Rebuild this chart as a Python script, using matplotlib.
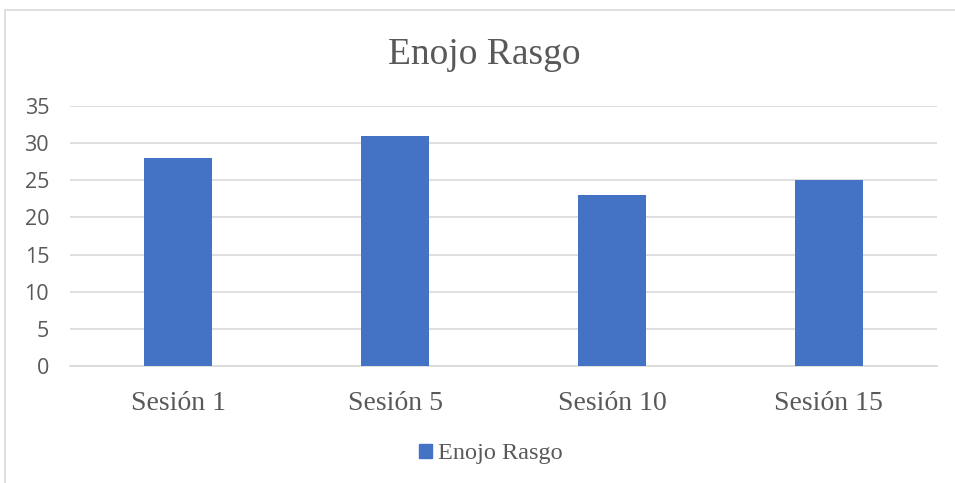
import matplotlib
matplotlib.use("Agg")
import matplotlib.pyplot as plt
from matplotlib.patches import Rectangle, Patch

categories = ["Sesión 1", "Sesión 5", "Sesión 10", "Sesión 15"]
values = [28, 31, 23, 25]
series_name = "Enojo Rasgo"
yticks = [0, 5, 10, 15, 20, 25, 30, 35]

bar_color = "#4472C4"
text_color = "#595959"
grid_color = "#D9D9D9"

fig = plt.figure(figsize=(9.55, 4.83), dpi=100)

# chart area border (cut off on the right and bottom in the original)
fig.patches.append(Rectangle((5 / 955, -0.1), 1.2, 1.1 - 10 / 483,
                             transform=fig.transFigure, fill=False,
                             edgecolor="#D9D9D9", linewidth=1.2))

ax = fig.add_axes([70 / 955, 117 / 483, 867 / 955, 260 / 483])
x = range(len(categories))
ax.bar(x, values, width=0.314, color=bar_color, zorder=3)
ax.set_xlim(-0.5, len(categories) - 0.5)
ax.set_ylim(0, 35)
ax.set_yticks(yticks)
ax.set_xticks(list(x))
ax.set_xticklabels(categories, fontfamily="Liberation Serif", fontsize=20,
                   color=text_color)
for lab in ax.get_yticklabels():
    lab.set_fontfamily("Open Sans")
    lab.set_fontsize(15.5)
    lab.set_color(text_color)
ax.tick_params(axis="both", length=0)
ax.tick_params(axis="y", pad=15)
ax.tick_params(axis="x", pad=18)
ax.grid(axis="y", color=grid_color, linewidth=1.2, zorder=0)
for s in ["top", "right", "left"]:
    ax.spines[s].set_visible(False)
ax.spines["bottom"].set_color(grid_color)
ax.spines["bottom"].set_linewidth(1.2)

fig.text(0.507, 1 - 55 / 483, series_name, ha="center", va="center",
         fontfamily="Liberation Serif", fontsize=27, color=text_color)

leg = fig.legend(handles=[Patch(color=bar_color, label=series_name)],
                 loc="center", bbox_to_anchor=(491 / 955, 1 - 454 / 483),
                 frameon=False, handlelength=0.55, handleheight=0.55,
                 handletextpad=0.25,
                 prop={"family": "Liberation Serif", "size": 17.5})
for t in leg.get_texts():
    t.set_color(text_color)

fig.savefig("out.png", dpi=100)
